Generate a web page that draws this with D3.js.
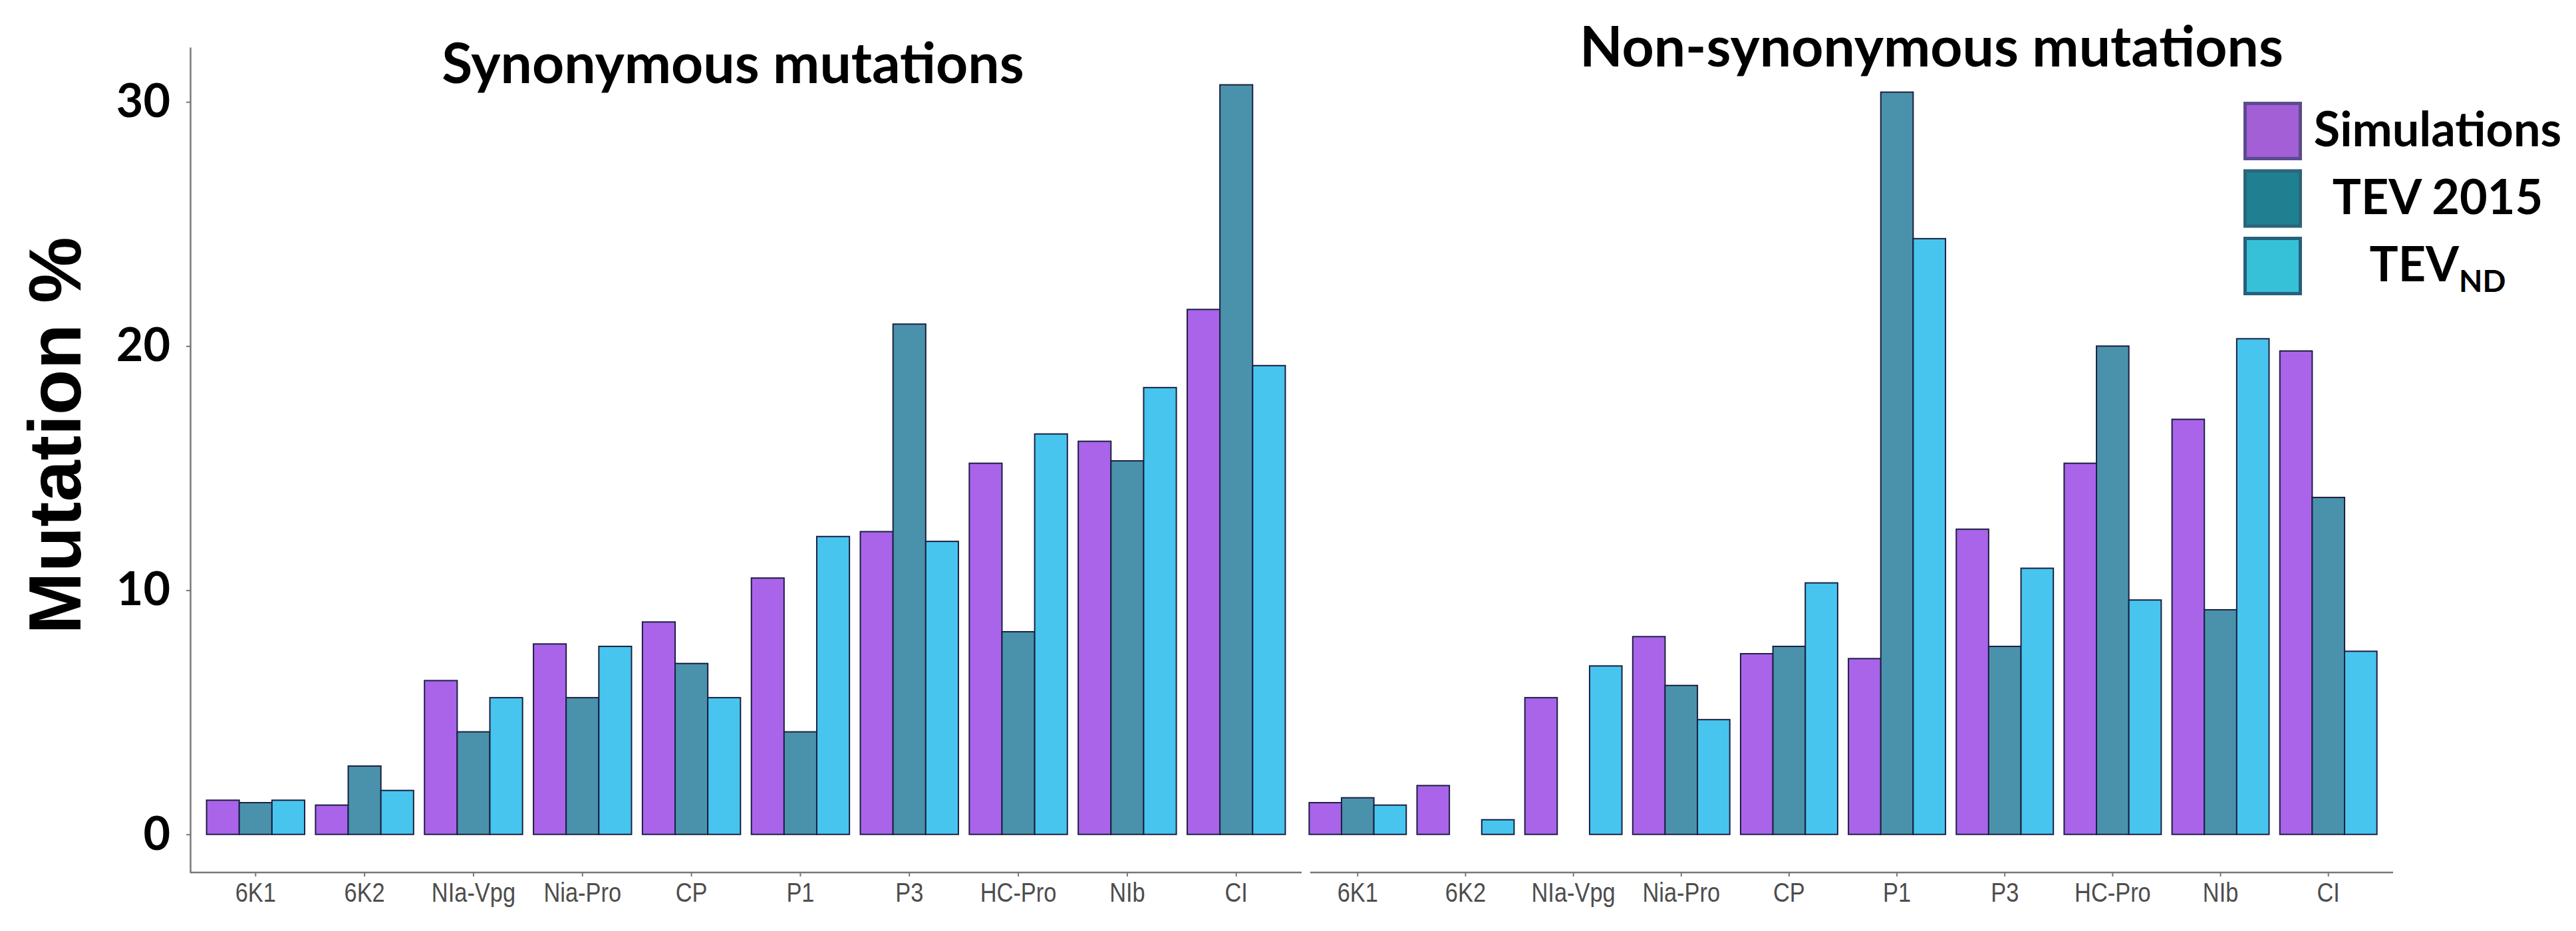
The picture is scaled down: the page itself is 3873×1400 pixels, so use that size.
<!DOCTYPE html>
<html>
<head>
<meta charset="utf-8">
<script src="https://cdn.jsdelivr.net/npm/d3@7"></script>
<style>
  body { margin: 0; background: #fff; }
  svg { display: block; }
</style>
</head>
<body>
<div id="chart"></div>
<script>
// Genes on the x axis (same order in both panels)
const genes = ["6K1", "6K2", "NIa-Vpg", "Nia-Pro", "CP", "P1", "P3", "HC-Pro", "NIb", "CI"];
const seriesNames = ["Simulations", "TEV 2015", "TEVND"];
const yTicks = [0, 10, 20, 30];

// Synonymous mutations (%)
const synSim     = [1.4, 1.2, 6.3, 7.8, 8.7, 10.5, 12.4, 15.2, 16.1, 21.5];
const synTev2015 = [1.3, 2.8, 4.2, 5.6, 7.0, 4.2, 20.9, 8.3, 15.3, 30.7];
const synTevND   = [1.4, 1.8, 5.6, 7.7, 5.6, 12.2, 12.0, 16.4, 18.3, 19.2];

// Non-synonymous mutations (%)
const nonSim     = [1.3, 2.0, 5.6, 8.1, 7.4, 7.2, 12.5, 15.2, 17.0, 19.8];
const nonTev2015 = [1.5, 0, 0, 6.1, 7.7, 30.4, 7.7, 20.0, 9.2, 13.8];
const nonTevND   = [1.2, 0.6, 6.9, 4.7, 10.3, 24.4, 10.9, 9.6, 20.3, 7.5];

const barColors = { "Simulations": "#a964ea", "TEV 2015": "#4a92ab", "TEVND": "#47c5ee" };
const keyColors = { "Simulations": "#a35fd6", "TEV 2015": "#1f8092", "TEVND": "#37c1d9" };
const keyStroke = { "Simulations": "#5a4c8e", "TEV 2015": "#2c6579", "TEVND": "#25607c" };

const width = 3873, height = 1400;

const svg = d3.select("#chart").append("svg")
  .attr("width", width)
  .attr("height", height);

svg.append("rect").attr("width", width).attr("height", height).attr("fill", "#fff");

// shared y scale (plot area top 71, bottom 1312)
const y = d3.scaleLinear().domain([-1.56, 32.24]).range([1312, 71]);

function toRows(sim, tev, nd) {
  return genes.map((g, i) => ({
    gene: g,
    values: [
      { key: "Simulations", value: sim[i] },
      { key: "TEV 2015", value: tev[i] },
      { key: "TEVND", value: nd[i] }
    ]
  }));
}

const panels = [
  { title: "Synonymous mutations", rows: toRows(synSim, synTev2015, synTevND),
    range: [286, 1957], axisStart: 286, titleX: 1102, titleY: 125 },
  { title: "Non-synonymous mutations", rows: toRows(nonSim, nonTev2015, nonTevND),
    range: [1944, 3598], axisStart: 1970, titleX: 2904, titleY: 100 }
];

panels.forEach(p => {
  const x = d3.scaleBand().domain(genes).range(p.range)
    .paddingInner(0.1).paddingOuter(0.15);
  const x1 = d3.scaleBand().domain(seriesNames).range([0, x.bandwidth()]);

  const g = svg.append("g");

  // bars
  g.append("g")
    .selectAll("g")
    .data(p.rows)
    .join("g")
    .attr("transform", d => `translate(${x(d.gene)},0)`)
    .selectAll("rect")
    .data(d => d.values)
    .join("rect")
    .attr("x", d => x1(d.key))
    .attr("y", d => y(d.value))
    .attr("width", x1.bandwidth())
    .attr("height", d => y(0) - y(d.value))
    .attr("fill", d => barColors[d.key])
    .attr("stroke", "#1b2040")
    .attr("stroke-width", 2);

  // x axis
  const xAxis = g.append("g")
    .attr("transform", `translate(0,${y.range()[0]})`)
    .call(d3.axisBottom(x).tickSize(6).tickSizeOuter(0));
  xAxis.select(".domain").remove();
  xAxis.selectAll(".tick line").attr("stroke", "#777").attr("stroke-width", 2);
  xAxis.selectAll(".tick text")
    .attr("y", 16)
    .attr("transform", "scale(0.86,1)")
    .attr("fill", "#4d4d4d")
    .style("font-family", "'Liberation Sans', Arial, sans-serif")
    .style("font-size", "40px");
  g.append("line")
    .attr("x1", p.axisStart).attr("x2", p.range[1])
    .attr("y1", y.range()[0]).attr("y2", y.range()[0])
    .attr("stroke", "#777").attr("stroke-width", 2.5);

  // panel title
  g.append("text")
    .attr("x", p.titleX)
    .attr("y", p.titleY)
    .attr("text-anchor", "middle")
    .style("font-family", "Lato, 'Open Sans', sans-serif")
    .style("font-weight", "bold")
    .style("font-size", "84px")
    .text(p.title);
});

// y axis (left panel only)
const yAxis = svg.append("g")
  .attr("transform", "translate(286,0)")
  .call(d3.axisLeft(y).tickValues(yTicks).tickSize(6).tickPadding(24).tickSizeOuter(0));
yAxis.select(".domain").attr("stroke", "#777").attr("stroke-width", 2.5);
yAxis.selectAll(".tick line").attr("stroke", "#777").attr("stroke-width", 2);
yAxis.selectAll(".tick text")
  .attr("fill", "#000")
  .style("font-family", "Lato, 'Open Sans', sans-serif")
  .style("font-weight", "bold")
  .style("font-size", "70px");

svg.append("text")
  .attr("transform", "translate(121,655) rotate(-90)")
  .attr("text-anchor", "middle")
  .style("font-family", "'Liberation Sans', Arial, sans-serif")
  .style("font-weight", "bold")
  .style("font-size", "112px")
  .text("Mutation %");

// legend
const legend = svg.append("g").attr("transform", "translate(3373,153)");
const item = legend.selectAll("g")
  .data(seriesNames)
  .join("g")
  .attr("transform", (d, i) => `translate(0,${i * 101.5})`);

item.append("rect")
  .attr("x", 2.5).attr("y", 2.5)
  .attr("width", 83).attr("height", 83)
  .attr("fill", d => keyColors[d])
  .attr("stroke", d => keyStroke[d])
  .attr("stroke-width", 5);

const label = item.append("text")
  .attr("x", 292)
  .attr("y", 67)
  .attr("text-anchor", "middle")
  .style("font-family", "Lato, 'Open Sans', sans-serif")
  .style("font-weight", "bold")
  .style("font-size", "72px");

label.filter(d => d !== "TEVND").text(d => d);
const nd = label.filter(d => d === "TEVND");
nd.append("tspan").text("TEV");
nd.append("tspan").attr("dy", 16).style("font-size", "46px").text("ND");
</script>
</body>
</html>
